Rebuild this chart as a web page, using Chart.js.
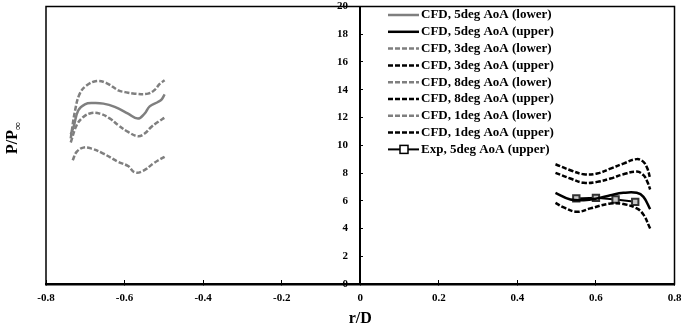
<!DOCTYPE html>
<html>
<head>
<meta charset="utf-8">
<script src="https://cdn.jsdelivr.net/npm/chart.js@4.4.1/dist/chart.umd.min.js"></script>
<style>
  body { margin: 0; background: #fff; }
</style>
</head>
<body>
<canvas id="grafica" width="681" height="330"></canvas>
<script>
// etiquetas de la leyenda
const etiquetas = [
  'CFD, 5deg AoA (lower)', 'CFD, 5deg AoA (upper)',
  'CFD, 3deg AoA (lower)', 'CFD, 3deg AoA (upper)',
  'CFD, 8deg AoA (lower)', 'CFD, 8deg AoA (upper)',
  'CFD, 1deg AoA (lower)', 'CFD, 1deg AoA (upper)',
  'Exp, 5deg AoA (upper)'
];
const ticksX = [-0.8, -0.6, -0.4, -0.2, 0, 0.2, 0.4, 0.6, 0.8];
const ticksY = [0, 2, 4, 6, 8, 10, 12, 14, 16, 18, 20];

// lado inferior (r/D negativo)
const r5inf = [-0.737, -0.730, -0.718, -0.701, -0.680, -0.654, -0.625, -0.591, -0.566, -0.549, -0.536, -0.515, -0.506, -0.498];
const p5inf = [10.8, 11.3, 12.5, 12.95, 13.04, 13.0, 12.76, 12.28, 11.92, 12.28, 12.8, 13.12, 13.29, 13.67];
const r3inf = [-0.737, -0.722, -0.705, -0.684, -0.663, -0.637, -0.616, -0.591, -0.566, -0.549, -0.532, -0.515, -0.498];
const p3inf = [10.2, 11.44, 12.04, 12.33, 12.28, 11.92, 11.44, 10.96, 10.65, 10.84, 11.32, 11.68, 11.99];
const r8inf = [-0.737, -0.726, -0.714, -0.697, -0.671, -0.646, -0.616, -0.599, -0.574, -0.540, -0.523, -0.510, -0.498];
const p8inf = [10.5, 12.5, 13.72, 14.3, 14.63, 14.48, 13.96, 13.83, 13.72, 13.72, 14.0, 14.44, 14.68];
const r1inf = [-0.732, -0.722, -0.705, -0.684, -0.654, -0.616, -0.591, -0.574, -0.553, -0.527, -0.515, -0.498];
const p1inf = [8.92, 9.52, 9.83, 9.76, 9.4, 8.8, 8.5, 8.04, 8.15, 8.68, 8.9, 9.16];

// lado superior (r/D positivo)
const r5sup = [0.497, 0.535, 0.569, 0.603, 0.637, 0.670, 0.704, 0.721, 0.738];
const p5sup = [6.57, 6.09, 6.04, 6.17, 6.4, 6.57, 6.57, 6.28, 5.4];
const r3sup = [0.497, 0.535, 0.569, 0.603, 0.637, 0.670, 0.704, 0.721, 0.731, 0.738];
const p3sup = [8.01, 7.6, 7.29, 7.36, 7.6, 7.91, 8.1, 7.84, 7.36, 6.81];
const r8sup = [0.497, 0.518, 0.552, 0.586, 0.637, 0.670, 0.704, 0.721, 0.738];
const p8sup = [5.85, 5.52, 5.2, 5.45, 5.8, 5.76, 5.45, 5.0, 4.0];
const r1sup = [0.497, 0.535, 0.569, 0.603, 0.637, 0.670, 0.704, 0.721, 0.731, 0.737];
const p1sup = [8.63, 8.2, 7.91, 7.96, 8.32, 8.68, 9.0, 8.8, 8.32, 7.72];
const rExp = [0.55, 0.60, 0.65, 0.70];
const pExp = [6.17, 6.21, 6.09, 5.92];

function puntos(rs, ps) {
  return rs.map((r, i) => ({ x: r, y: ps[i] }));
}

const gris = '#7f7f7f';
const negro = '#000000';
const rayas = [5, 2];

function serie(n, rs, ps, color, dash) {
  return {
    label: etiquetas[n],
    data: puntos(rs, ps),
    showLine: true,
    borderColor: color,
    borderWidth: 2.5,
    borderDash: dash,
    pointRadius: 0,
    tension: 0.4,
    fill: false
  };
}

const datasets = [
  serie(0, r5inf, p5inf, gris, []),
  serie(1, r5sup, p5sup, negro, []),
  serie(2, r3inf, p3inf, gris, rayas),
  serie(3, r3sup, p3sup, negro, rayas),
  serie(4, r8inf, p8inf, gris, rayas),
  serie(5, r8sup, p8sup, negro, rayas),
  serie(6, r1inf, p1inf, gris, rayas),
  serie(7, r1sup, p1sup, negro, rayas),
  {
    label: etiquetas[8],
    data: puntos(rExp, pExp),
    showLine: true,
    borderColor: negro,
    borderWidth: 2,
    pointStyle: 'rect',
    pointRadius: 4.5,
    pointBorderWidth: 2,
    pointBorderColor: '#333',
    pointBackgroundColor: '#c8c8c8',
    tension: 0,
    fill: false
  }
];

const fuente = 'Liberation Serif, Times New Roman, serif';

// marco, titulo del eje y y leyenda
const extras = {
  id: 'extras',
  beforeDatasetsDraw(chart) {
    const ctx = chart.ctx;
    const a = chart.chartArea;
    ctx.save();
    ctx.strokeStyle = '#000';
    ctx.lineWidth = 1.5;
    ctx.strokeRect(a.left, a.top, a.right - a.left, a.bottom - a.top);
    ctx.restore();
  },
  afterDraw(chart) {
    const ctx = chart.ctx;
    ctx.save();
    // titulo eje y: P/P con subindice infinito
    ctx.translate(13, 138);
    ctx.rotate(-Math.PI / 2);
    ctx.fillStyle = '#000';
    ctx.textBaseline = 'middle';
    ctx.font = 'bold 16px ' + fuente;
    const base = 'P/P';
    const w1 = ctx.measureText(base).width;
    ctx.font = 'bold 11px ' + fuente;
    const w2 = ctx.measureText('\u221e').width;
    let x0 = -(w1 + w2) / 2;
    ctx.font = 'bold 16px ' + fuente;
    ctx.fillText(base, x0, 0);
    ctx.font = 'bold 11px ' + fuente;
    ctx.fillText('\u221e', x0 + w1, 5);
    ctx.restore();

    // leyenda
    ctx.save();
    ctx.font = 'bold 13px ' + fuente;
    ctx.textBaseline = 'middle';
    chart.data.datasets.forEach((ds, i) => {
      const y = 15 + i * 16.8;
      ctx.beginPath();
      ctx.setLineDash(ds.borderDash || []);
      ctx.strokeStyle = ds.borderColor;
      ctx.lineWidth = ds.borderWidth;
      ctx.moveTo(388, y);
      ctx.lineTo(419, y);
      ctx.stroke();
      ctx.setLineDash([]);
      if (ds.pointRadius > 0) {
        ctx.fillStyle = '#fff';
        ctx.fillRect(400, y - 4, 8, 8);
        ctx.strokeStyle = '#000';
        ctx.lineWidth = 1.5;
        ctx.strokeRect(400, y - 4, 8, 8);
      }
      ctx.fillStyle = '#000';
      ctx.fillText(ds.label, 421, y);
    });
    ctx.restore();
  }
};

const sinRelleno = s => { s.paddingLeft = 0; s.paddingRight = 0; s.paddingTop = 0; s.paddingBottom = 0; };
const letraTicks = { family: fuente, size: 11, weight: 'bold' };

const ctx = document.getElementById('grafica').getContext('2d');
const chart = new Chart(ctx, {
  type: 'scatter',
  data: { datasets: datasets },
  options: {
    responsive: false,
    animation: false,
    devicePixelRatio: 1,
    layout: { padding: { left: 46, right: 5, top: 5, bottom: 0 } },
    plugins: { legend: { display: false }, tooltip: { enabled: false } },
    scales: {
      x: {
        type: 'linear',
        min: -0.8,
        max: 0.8,
        afterBuildTicks: s => { s.ticks = ticksX.map(v => ({ value: v })); },
        ticks: { color: '#000', font: letraTicks, padding: 12 },
        grid: { drawOnChartArea: false, tickLength: -4, color: '#000' },
        border: { color: '#000', width: 2.5 },
        title: { display: true, text: 'r/D', color: '#000', font: { family: fuente, size: 16, weight: 'bold' }, padding: { top: 0, bottom: 2 } },
        afterFit: s => { s.height = 46; sinRelleno(s); }
      },
      y: {
        type: 'linear',
        position: { x: 0 },
        min: 0,
        max: 20,
        afterBuildTicks: s => { s.ticks = ticksY.map(v => ({ value: v })); },
        ticks: { display: false },
        grid: { drawOnChartArea: false, tickLength: -4, color: '#000' },
        border: { color: '#000', width: 2 },
        afterFit: s => { s.width = 0; sinRelleno(s); }
      },
      // solo para las etiquetas del eje y, un poco a la izquierda del eje
      yEt: {
        type: 'linear',
        axis: 'y',
        position: { x: -0.031 },
        min: 0,
        max: 20,
        afterBuildTicks: s => { s.ticks = ticksY.map(v => ({ value: v })); },
        ticks: { color: '#000', font: letraTicks, padding: 0 },
        grid: { display: false },
        border: { display: false },
        afterFit: s => { s.width = 0; sinRelleno(s); }
      }
    }
  },
  plugins: [extras]
});
</script>
</body>
</html>
